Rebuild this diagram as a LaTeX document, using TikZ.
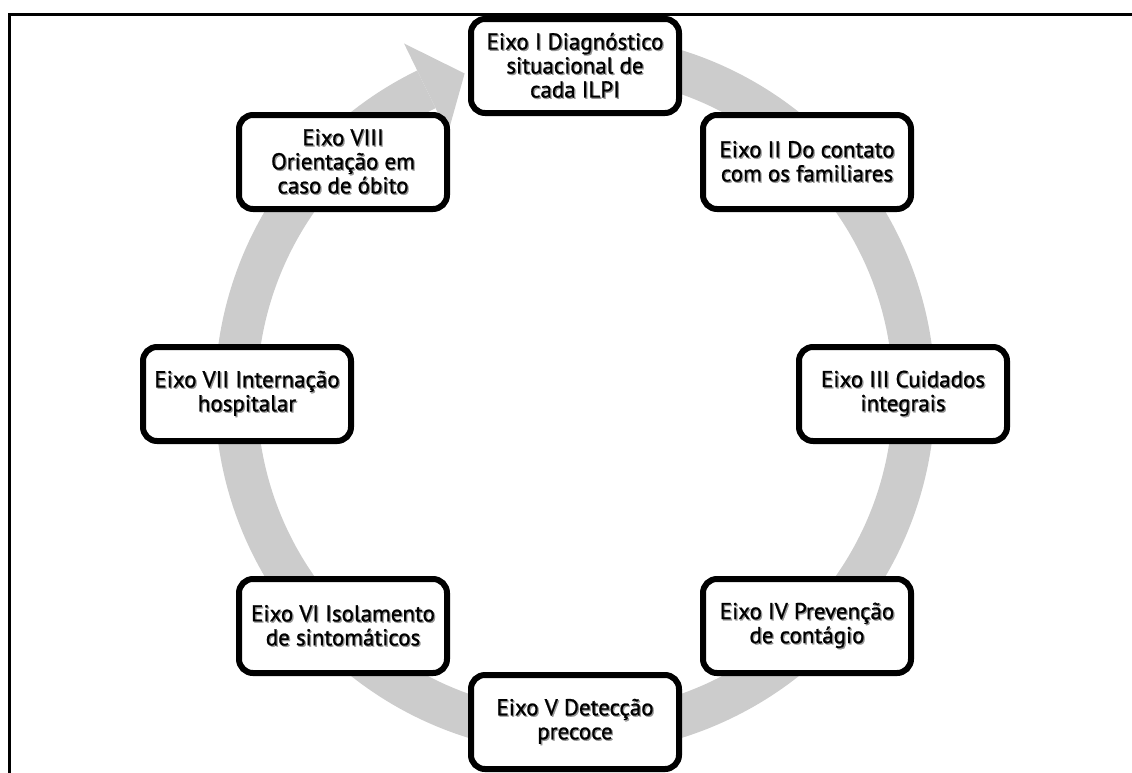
\documentclass[tikz,border=0pt]{standalone}
\usepackage{fontspec}
\setmainfont{PT Sans}
\newfontfamily\boxfont{PT Sans}[FakeBold=0.9]
\definecolor{bandgray}{RGB}{204,204,204}
\definecolor{shadowgray}{RGB}{150,150,150}
\newcommand\shl[1]{\makebox[0pt][l]{\hspace{1.3pt}\raisebox{-1.3pt}{\color{shadowgray}#1}}#1}
\tikzset{
  axisbox/.style={draw=black, line width=6pt, rounded corners=14pt, fill=white,
    minimum width=208pt, minimum height=94pt, inner sep=0pt, align=center,
    font=\boxfont\fontsize{23}{24}\selectfont},
  frameline/.style={line width=3pt, draw=black},
}
\begin{document}
\begin{tikzpicture}[x=1pt,y=1pt]
\useasboundingbox (0,0) rectangle (1132,-772);
\coordinate (c) at (575,-394);
% frame
\draw[frameline] (9,-790) -- (9,-14) -- (1150,-14);
% circular band with arrow head
\fill[bandgray] ([shift={(116:360)}]c) arc[start angle=116,end angle=450,radius=360]
  -- ([shift={(90:318)}]c) arc[start angle=450,end angle=116,radius=318] -- cycle;
\fill[bandgray] ([shift={(116:390)}]c) -- ([shift={(109:339)}]c) -- ([shift={(116:290)}]c) -- cycle;
% boxes
\node[axisbox] (e1) at (575,-66) {\shl{Eixo I Diagnóstico}\\\shl{situacional de}\\\shl{cada ILPI}};
\node[axisbox] (e2) at (807,-162) {\shl{Eixo II Do contato}\\\shl{com os familiares}};
\node[axisbox] (e3) at (903,-394) {\shl{Eixo III Cuidados}\\\shl{integrais}};
\node[axisbox] (e4) at (807,-626) {\shl{Eixo IV Prevenção}\\\shl{de contágio}};
\node[axisbox] (e5) at (575,-722) {\shl{Eixo V Detecção}\\\shl{precoce}};
\node[axisbox] (e6) at (343,-626) {\shl{Eixo VI Isolamento}\\\shl{de sintomáticos}};
\node[axisbox] (e7) at (247,-394) {\shl{Eixo VII Internação}\\\shl{hospitalar}};
\node[axisbox] (e8) at (343,-162) {\shl{Eixo VIII}\\\shl{Orientação em}\\\shl{caso de óbito}};
\end{tikzpicture}
\end{document}
